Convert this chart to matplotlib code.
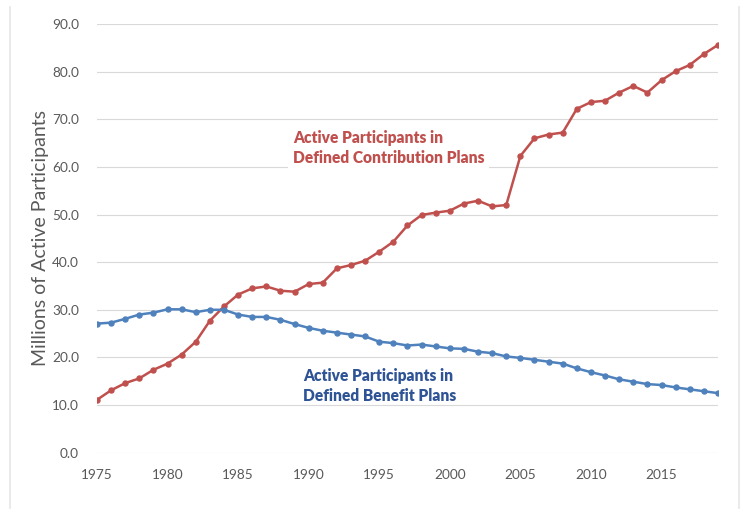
import matplotlib

matplotlib.use("Agg")
import matplotlib.pyplot as plt
from matplotlib.lines import Line2D

years = list(range(1975, 2020))
# defined contribution plans, millions of active participants
dc = [11.1, 13.1, 14.6, 15.6, 17.4, 18.7, 20.6, 23.3, 27.7, 30.7,
      33.2, 34.5, 34.9, 34.0, 33.8, 35.4, 35.7, 38.7, 39.4, 40.3,
      42.2, 44.3, 47.7, 49.9, 50.4, 50.8, 52.3, 52.9, 51.7, 52.0,
      62.3, 66.0, 66.8, 67.2, 72.2, 73.6, 73.9, 75.6, 77.0, 75.6,
      78.2, 80.1, 81.4, 83.7, 85.6]
# defined benefit plans
db = [27.1, 27.3, 28.1, 29.0, 29.4, 30.1, 30.1, 29.5, 30.0, 30.0,
      29.0, 28.5, 28.5, 27.9, 27.0, 26.2, 25.6, 25.2, 24.8, 24.4,
      23.3, 23.0, 22.5, 22.7, 22.3, 21.9, 21.8, 21.2, 20.9, 20.2,
      19.9, 19.5, 19.1, 18.7, 17.7, 16.9, 16.2, 15.4, 14.9, 14.4,
      14.2, 13.7, 13.3, 12.9, 12.5]
x_ticks = list(range(1975, 2020, 5))
y_ticks = list(range(0, 91, 10))

RED = "#c0504d"
BLUE = "#4f81bd"
GRAY = "#595959"

plt.rcParams.update({"font.family": ["Lato", "DejaVu Sans"]})

fig = plt.figure(figsize=(7.5, 5.14), dpi=100)
ax = fig.add_axes([0.1293, 0.1193, 0.828, 0.834])

ax.plot(years, dc, color=RED, lw=1.8, marker="o", ms=3.6, zorder=3)
ax.plot(years, db, color=BLUE, lw=1.8, marker="o", ms=3.6, zorder=3)

ax.set_xlim(1975, 2019)
ax.set_ylim(0, 90)
ax.set_xticks(x_ticks)
ax.set_yticks(y_ticks)
ax.set_yticklabels([f"{v:.1f}" for v in y_ticks])
ax.tick_params(length=0, labelsize=9.8, labelcolor=GRAY)
ax.tick_params(axis="x", pad=12)
ax.tick_params(axis="y", pad=13)
ax.grid(axis="y", color="#d9d9d9", lw=0.8, zorder=0)
for sp in ax.spines.values():
    sp.set_visible(False)

ax.set_ylabel("Millions of Active Participants", fontsize=14, color=GRAY,
              labelpad=2)

ax.text(1988.9, 63.9, "Active Participants in\nDefined Contribution Plans",
        color=RED, fontsize=11.2, fontweight="heavy", ha="left", va="center",
        linespacing=1.3, zorder=2,
        bbox={"boxstyle": "square,pad=0.3", "fc": "white", "ec": "none"})
ax.text(1989.6, 14.0, "Active Participants in\nDefined Benefit Plans",
        color="#2f5496", fontsize=11.2, fontweight="heavy", ha="left",
        va="center", linespacing=1.3, zorder=2)

# light frame edges of the original image
for xf in (10 / 750, 739 / 750):
    fig.add_artist(Line2D([xf, xf], [1 - 7 / 514, 1 - 508 / 514],
                          transform=fig.transFigure, color="#e6e6e6", lw=1.2))

fig.savefig("out.png", dpi=100)
